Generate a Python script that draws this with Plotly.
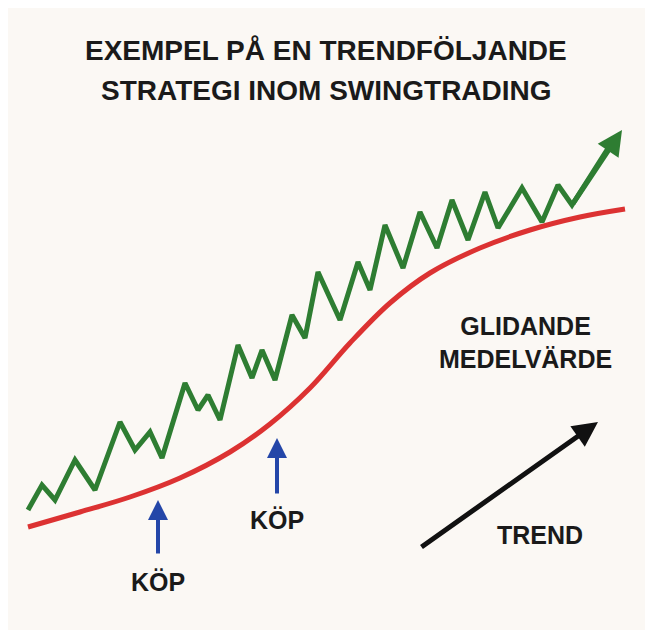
import plotly.graph_objects as go

# pixel-space coordinates (y grows downward)
price_x = [28, 42, 55, 75, 95, 120, 135, 150, 162, 185, 198, 208, 220, 238, 252, 262, 275, 292, 305,
           318, 340, 358, 370, 385, 403, 420, 437, 452, 468, 485, 498, 522, 542, 558, 572, 612]
price_y = [510, 485, 500, 460, 490, 422, 450, 432, 458, 383, 410, 395, 420, 345, 378, 350, 380, 315, 338,
           272, 320, 262, 290, 225, 268, 212, 248, 200, 240, 192, 228, 188, 222, 185, 205, 142]
ma_x = [28, 80, 130, 180, 230, 270, 310, 350, 390, 430, 480, 530, 580, 625]
ma_y = [527, 512, 497, 478, 452, 424, 388, 343, 303, 273, 248, 230, 217, 209]

title_lines = ["EXEMPEL PÅ EN TRENDFÖLJANDE", "STRATEGI INOM SWINGTRADING"]
buy_labels = ["KÖP", "KÖP"]
buy_x = [158, 277]
buy_y = [582, 520]

fig = go.Figure()
fig.add_trace(go.Scatter(x=ma_x, y=ma_y, mode="lines", line=dict(color="#dc3232", width=5, shape="spline"),
                         hoverinfo="skip"))
fig.add_trace(go.Scatter(x=price_x, y=price_y, mode="lines", line=dict(color="#2e7d32", width=5), hoverinfo="skip"))

font = dict(family="Liberation Sans, Arial", size=25, color="#1a1a1a")
ann = []
# arrowhead on the price line
ann.append(dict(x=622, y=130, ax=price_x[-2], ay=price_y[-2], xref="x", yref="y", axref="x", ayref="y",
                showarrow=True, arrowhead=2, arrowsize=1, arrowwidth=5, arrowcolor="#2e7d32", text=""))
# buy arrows
for bx, top, bottom in [(158, 500, 555), (277, 438, 495)]:
    ann.append(dict(x=bx, y=top, ax=bx, ay=bottom, xref="x", yref="y", axref="x", ayref="y",
                    showarrow=True, arrowhead=2, arrowsize=1, arrowwidth=4, arrowcolor="#2446a8", text=""))
for t, bx, by in zip(buy_labels, buy_x, buy_y):
    ann.append(dict(x=bx, y=by, text="<b>%s</b>" % t, showarrow=False, font=font))
# trend arrow
ann.append(dict(x=598, y=422, ax=420, ay=548, xref="x", yref="y", axref="x", ayref="y",
                showarrow=True, arrowhead=2, arrowsize=1, arrowwidth=5, arrowcolor="#111", text=""))
ann.append(dict(x=540, y=535, text="<b>TREND</b>", showarrow=False, font=font))
ann.append(dict(x=525, y=342, text="<b>GLIDANDE<br>MEDELVÄRDE</b>", showarrow=False, font=font, align="center"))
for i, t in enumerate(title_lines):
    ann.append(dict(x=326, y=50 + i * 40, text="<b>%s</b>" % t, showarrow=False,
                    font=dict(family="Liberation Sans, Arial", size=28, color="#1a1a1a")))
fig.update_layout(annotations=ann)

fig.update_layout(
    width=653, height=630, margin=dict(l=0, r=0, t=0, b=0),
    paper_bgcolor="#fbf8f4", plot_bgcolor="#fbf8f4", showlegend=False,
    xaxis=dict(range=[8, 661], visible=False, fixedrange=True),
    yaxis=dict(range=[638, 8], visible=False, fixedrange=True),
)
fig.write_html("out.html")
